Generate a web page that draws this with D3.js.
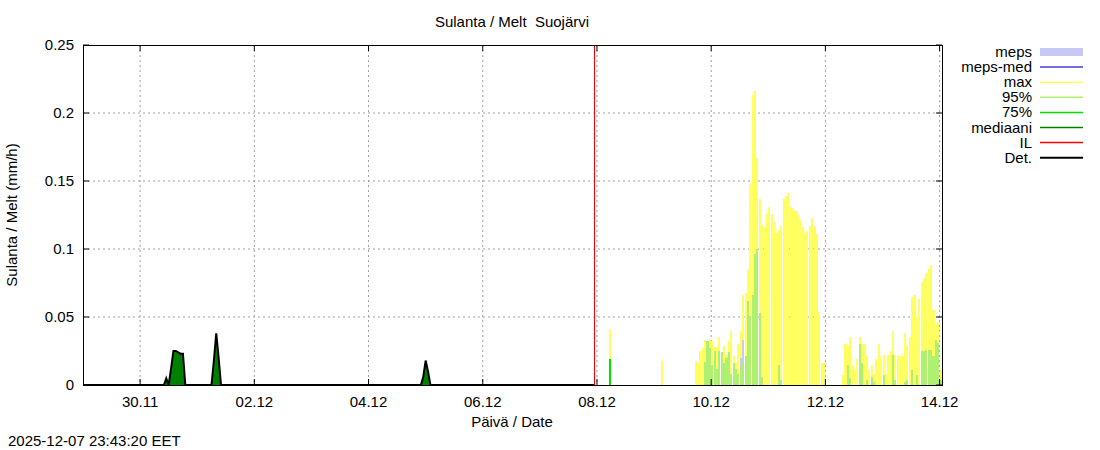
<!DOCTYPE html>
<html><head><meta charset="utf-8">
<script src="https://cdn.jsdelivr.net/npm/d3@7"></script>
<style>body{margin:0;background:#fff}svg{font-family:"Liberation Sans",Arial,sans-serif}text{white-space:pre}</style>
</head><body><svg id="c" width="1100" height="450"></svg>
<script>
// ---- data ----
const xTickLabels = ["30.11","02.12","04.12","06.12","08.12","10.12","12.12","14.12"];
const yTicks = [0,0.05,0.1,0.15,0.2,0.25];
const legendLabels = ["meps","meps-med","max","95%","75%","mediaani","IL","Det."];
const legendColors = ["#c8c8f4","#4040d0","#ffff60","#b0f070","#00e000","#008000","#ff0000","#000000"];
// observed (Det.) hours from 29.11 00:00
const detHours = [0,34,35,36,37,38,39,40,41,42,43,44,53,54,55,56,57,58,59,142,143,144,145,146,215];
const detValues = [0,0,0.005,0,0.012,0.025,0.025,0.024,0.023,0.023,0,0,0,0,0.018,0.038,0.02,0,0,0,0.006,0.018,0.01,0,0];
// early single forecast bars: hour offsets from 29.11 00:00
const earlyHours = [221,243];
const earlyMax = [0.041,0.018];
const early95 = [0.019,0];
// hourly forecast from 09.12 17:00
const fcMax = [0.018,0.016,0.025,0.027,0.033,0.032,0.033,0.032,0.028,0.028,0.035,0.024,0.029,0.022,0.032,0.040,0.021,0.016,0.030,0.040,0.066,0.068,0.085,0.148,0.213,0.216,0.167,0.137,0.118,0.116,0.126,0.131,0.126,0.120,0.112,0.114,0.117,0.137,0.139,0.141,0.131,0.130,0.128,0.125,0.121,0.116,0.112,0.113,0.117,0.123,0.117,0.111,0.054,0.016,0.016,0,
 0,0,0,0,0,0,
 0.007,0.030,0.029,0.035,0.015,0.011,0.019,0.035,0.030,0.030,0.021,0.011,0.015,0.008,0.019,0.030,0.021,0.022,0.008,0.022,0.025,0.040,0.022,0.022,0.021,0.021,0.038,0.029,0.035,0.065,0.066,0.050,0.063,0.076,0.079,0.082,0.085,0.088,0.055,0.045,0.046,0.011,0.054,0.061];
const fc95 = [0,0,0,0,0.017,0.032,0.027,0.015,0.025,0.012,0.025,0.024,0.016,0.020,0.024,0.008,0.016,0.012,0.008,0.011,0.016,0.021,0.062,0.051,0.066,0.096,0.100,0.053,0.006,0,0,0,0,0,0,0.015,0.004,0,0,0,0,0,0,0,0,0,0,0,0,0,0,0,0,0,0,0,
 0,0,0,0,0,0,
 0,0,0.015,0.005,0,0,0,0.030,0.016,0,0.004,0,0.006,0.002,0,0,0,0.007,0,0,0,0.022,0.004,0,0,0,0.002,0.004,0,0.011,0,0.007,0,0.025,0.025,0.026,0.026,0.026,0.021,0.033,0.031,0.004,0.027,0.022];
const mepsIdx = [19,20,21];
const mepsVals = [0.020,0.033,0.008];

// ---- layout ----
const svg = d3.select("#c");
const L=83,R=942,T=45,B=385;
const t0 = new Date(2025,10,29,0,0);
const hour = h => new Date(t0.getTime()+h*3600e3);
const x = d3.scaleTime().domain([t0, hour(15*24+1)]).range([L,R]);
const y = d3.scaleLinear().domain([0,0.25]).range([B,T]);
const tickDates = xTickLabels.map(s=>{const p=s.split(".").map(Number);return new Date(2025,p[1]-1,p[0]);});
const bw = x(hour(1))-x(hour(0));

// grid
const g = svg.append("g");
tickDates.forEach(dt=>g.append("line").attr("x1",x(dt)).attr("x2",x(dt)).attr("y1",T).attr("y2",B).attr("stroke","#a0a0a0").attr("stroke-dasharray","2,3"));
yTicks.slice(1,-1).forEach(v=>g.append("line").attr("x1",L).attr("x2",R).attr("y1",y(v)).attr("y2",y(v)).attr("stroke","#a0a0a0").attr("stroke-dasharray","2,3"));

// forecast bars
const fcStart = 10*24+17;
function bars(vals,color,hours){
  const data = vals.map((v,i)=>({h:hours?hours[i]:fcStart+i,v:v})).filter(o=>o.v>0 && x(hour(o.h))<R);
  svg.append("g").attr("shape-rendering","crispEdges").selectAll("rect").data(data).join("rect")
   .attr("x",o=>x(hour(o.h))).attr("width",o=>Math.max(0,Math.min(bw-0.3,R-x(hour(o.h)))))
   .attr("y",o=>y(o.v)).attr("height",o=>B-y(o.v)).attr("fill",color);
}
bars(fcMax,"#ffff60");
bars(earlyMax,"#ffff60",earlyHours);
bars(mepsVals,"#c8c8f4",mepsIdx.map(k=>fcStart+k));
bars(fc95,"#b0f070");
bars(early95,"#00e000",earlyHours);

// det
const pts = detHours.map((h,i)=>[x(hour(h)),y(detValues[i])]);
svg.append("path").attr("d",d3.area().x(p=>p[0]).y0(B).y1(p=>p[1])(pts)).attr("fill","#008000");
svg.append("path").attr("d",d3.line()(pts)).attr("fill","none").attr("stroke","#000").attr("stroke-width",2);

// IL line
const ilDate = new Date(2025,11,7,23,10);
svg.append("line").attr("x1",x(ilDate)).attr("x2",x(ilDate)).attr("y1",T).attr("y2",B).attr("stroke","#ff0000").attr("shape-rendering","crispEdges");

// frame + ticks
svg.append("rect").attr("x",L).attr("y",T).attr("width",R-L).attr("height",B-T).attr("fill","none").attr("stroke","#000").attr("shape-rendering","crispEdges");
const ax = svg.append("g").attr("font-size",15);
tickDates.forEach((dt,i)=>{
  ax.append("line").attr("x1",x(dt)).attr("x2",x(dt)).attr("y1",B).attr("y2",B-6).attr("stroke","#000");
  ax.append("line").attr("x1",x(dt)).attr("x2",x(dt)).attr("y1",T).attr("y2",T+6).attr("stroke","#000");
  ax.append("text").attr("x",x(dt)).attr("y",B+22).attr("text-anchor","middle").text(xTickLabels[i]);
});
yTicks.forEach(v=>{
  ax.append("line").attr("x1",L).attr("x2",L+6).attr("y1",y(v)).attr("y2",y(v)).attr("stroke","#000");
  ax.append("line").attr("x1",R).attr("x2",R-6).attr("y1",y(v)).attr("y2",y(v)).attr("stroke","#000");
  ax.append("text").attr("x",L-9).attr("y",y(v)+5).attr("text-anchor","end").text(v);
});
ax.append("text").attr("x",512).attr("y",27).attr("text-anchor","middle").text("Sulanta / Melt  Suojärvi");
ax.append("text").attr("x",512).attr("y",427).attr("text-anchor","middle").text("Päivä / Date");
ax.append("text").attr("transform","translate(17,215) rotate(-90)").attr("text-anchor","middle").text("Sulanta / Melt (mm/h)");
ax.append("text").attr("x",8).attr("y",446).text("2025-12-07 23:43:20 EET");

// legend
legendLabels.forEach((l,i)=>{
  const yy = 52+i*15.1;
  ax.append("text").attr("x",1032).attr("y",yy+5).attr("text-anchor","end").text(l);
  if(i===0) ax.append("rect").attr("x",1040).attr("y",yy-4).attr("width",43).attr("height",8).attr("fill",legendColors[i]);
  else ax.append("line").attr("x1",1040).attr("x2",1083).attr("y1",yy).attr("y2",yy).attr("stroke",legendColors[i]).attr("stroke-width",i===7?2:1.5);
});
</script></body></html>
